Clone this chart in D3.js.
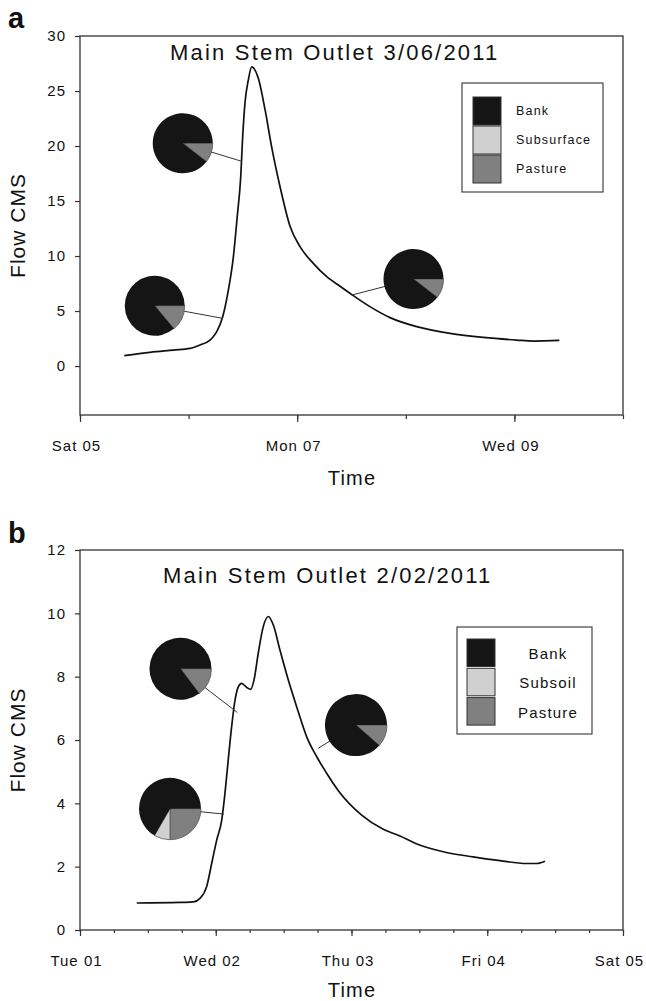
<!DOCTYPE html>
<html><head><meta charset="utf-8">
<script src="https://cdn.jsdelivr.net/npm/d3@7"></script>
<style>body{margin:0;background:#fff} svg{display:block;font-family:"Liberation Sans",Arial,sans-serif}</style>
</head><body><svg id="c" width="646" height="1001"></svg>
<script>
// ---------- Panel a data (days since Sat 05 March 2011 00:00 UTC) ----------
const aTimeDays = [0.408,0.645,0.859,1.013,1.105,1.197,1.227,1.258,1.314,1.366,1.412,1.448,1.480,1.498,1.519,1.550,1.581,1.642,1.704,1.765,1.842,1.934,2.026,2.148,2.272,2.394,2.517,2.670,2.855,3.1,3.407,3.714,4.021,4.174,4.414];
const aFlow      = [0.94,1.25,1.45,1.6,1.91,2.36,2.67,3.1,4.48,6.9,9.9,13.6,17.2,20.85,23.9,26.0,27.2,26.15,23.3,19.9,16.3,12.7,10.85,9.33,8.12,7.25,6.4,5.4,4.4,3.58,2.97,2.6,2.36,2.27,2.33];
const aTitle = "Main Stem Outlet 3/06/2011";
const aLegend = ["Bank","Subsurface","Pasture"];
const aYTicks = [0,5,10,15,20,25,30];
const aPieBank    = [89.5, 86.0, 89.5];
const aPieSub     = [0, 0, 0];
const aPiePasture = [10.5, 14.0, 10.5];
const aPieDay   = [0.946, 0.688, 3.071];
const aPieFlow  = [20.25, 5.48, 7.91];
const aLinkDay  = [1.492, 1.317, 2.502];
const aLinkFlow = [18.6, 4.33, 6.45];

// ---------- Panel b data (days since Tue 01 Feb 2011 00:00 UTC) ----------
const bTimeDays = [0.418,0.737,0.835,0.884,0.933,0.970,1.007,1.044,1.068,1.092,1.117,1.142,1.166,1.191,1.228,1.257,1.282,1.313,1.350,1.387,1.424,1.473,1.534,1.596,1.670,1.744,1.817,1.903,2.075,2.234,2.357,2.468,2.676,2.897,3.094,3.291,3.364,3.425];
const bFlow      = [0.853,0.87,0.89,1.0,1.37,2.1,2.84,3.47,4.32,5.37,6.42,7.26,7.68,7.79,7.66,7.6,7.9,8.74,9.58,9.9,9.63,8.84,7.9,7.05,6.1,5.47,4.95,4.4,3.63,3.18,2.97,2.74,2.47,2.31,2.19,2.1,2.1,2.17];
const bTitle = "Main Stem Outlet 2/02/2011";
const bLegend = ["Bank","Subsoil","Pasture"];
const bYTicks = [0,2,4,6,8,10,12];
const bPieBank    = [85.3, 66.7, 88.5];
const bPieSub     = [0, 8.3, 0];
const bPiePasture = [14.7, 25.0, 11.5];
const bPieDay   = [0.740, 0.663, 2.033];
const bPieFlow  = [8.25, 3.83, 6.47];
const bLinkDay  = [1.159, 1.061, 1.755];
const bLinkFlow = [6.87, 3.66, 5.74];

const sourceColors = ["#151515", "#d0d0d0", "#808080"]; // bank, subsurface/subsoil, pasture

const svg = d3.select("#c");
const DAY = 86400000;

function drawPanel(o){
  const x = d3.scaleUtc().domain([o.start, new Date(+o.start + o.nDays*DAY)]).range([o.left, o.right]);
  const y = d3.scaleLinear().domain(o.yDomain).range([o.bottom, o.top]);
  const g = svg.append("g");
  const toDate = d => new Date(+o.start + d*DAY);

  // panel letter
  g.append("text").attr("x",8).attr("y",o.letterY).text(o.letter)
    .attr("font-size",29).attr("font-weight","bold").attr("fill","#111");

  // frame
  g.append("rect").attr("x",o.left).attr("y",o.top).attr("width",o.right-o.left).attr("height",o.bottom-o.top)
    .attr("fill","none").attr("stroke","#333").attr("stroke-width",1.3);

  // y axis
  const ya = d3.axisLeft(y).tickValues(o.yTicks).tickSize(5).tickPadding(9).tickFormat(d3.format("d"));
  g.append("g").attr("transform",`translate(${o.left},0)`).call(ya).call(s=>{
    s.select(".domain").remove();
    s.selectAll("line").attr("stroke","#333").attr("stroke-width",1.2);
    s.selectAll("text").attr("font-size",15).attr("letter-spacing","1px").attr("fill","#111")
      .attr("font-family","Liberation Sans, Arial, sans-serif");
  });

  // x axis minor ticks
  const xMinor = d3.axisBottom(x).tickValues(x.ticks(o.minorInterval)).tickSize(o.minorLen).tickFormat("");
  g.append("g").attr("transform",`translate(0,${o.bottom})`).call(xMinor).call(s=>{
    s.select(".domain").remove();
    s.selectAll("line").attr("stroke","#333").attr("stroke-width",1.2);
  });
  // x axis major ticks with labels
  const xMajor = d3.axisBottom(x).tickValues(x.ticks(o.majorInterval)).tickSize(o.majorLen).tickPadding(25 - o.majorLen)
    .tickFormat(d3.utcFormat("%a %d"));
  g.append("g").attr("transform",`translate(0,${o.bottom})`).call(xMajor).call(s=>{
    s.select(".domain").remove();
    s.selectAll("line").attr("stroke","#333").attr("stroke-width",1.2);
    s.selectAll("text").attr("font-size",15).attr("letter-spacing","1px").attr("fill","#111")
      .attr("dx",-4).attr("font-family","Liberation Sans, Arial, sans-serif");
  });

  // axis titles
  g.append("text").attr("transform",`translate(25,${(o.top+o.bottom)/2}) rotate(-90)`)
    .attr("text-anchor","middle").attr("font-size",21).attr("letter-spacing","1px").attr("fill","#111").text("Flow CMS");
  g.append("text").attr("x",352).attr("y",o.bottom+o.timeOffset).attr("text-anchor","middle")
    .attr("font-size",20).attr("letter-spacing","1.2px").attr("fill","#111").text("Time");

  // chart title
  g.append("text").attr("x",o.titleX).attr("y",o.titleY).attr("font-size",22).attr("letter-spacing","2.2px")
    .attr("fill","#111").text(o.title);

  // flow line
  const pts = o.days.map((d,i)=>[toDate(d), o.flow[i]]);
  g.append("path").datum(pts).attr("fill","none").attr("stroke","#111").attr("stroke-width",1.7)
    .attr("stroke-linejoin","round")
    .attr("d", d3.line().x(d=>x(d[0])).y(d=>y(d[1])).curve(d3.curveMonotoneX));

  // pies with leader lines
  const pie = d3.pie().sort(null).value(d=>d).startAngle(Math.PI/2).endAngle(Math.PI/2 + 2*Math.PI);
  const arc = d3.arc().innerRadius(0).outerRadius(o.pieR);
  const pieColors = [sourceColors[2], sourceColors[1], sourceColors[0]]; // pasture, sub, bank
  o.pieDay.forEach((pd,i)=>{
    const cx = x(toDate(pd)), cy = y(o.pieFlow[i]);
    g.append("line").attr("x1",cx).attr("y1",cy).attr("x2",x(toDate(o.linkDay[i]))).attr("y2",y(o.linkFlow[i]))
      .attr("stroke","#333").attr("stroke-width",1);
    const pg = g.append("g").attr("transform",`translate(${cx},${cy})`);
    const vals = [o.pasture[i], o.sub[i], o.bank[i]];
    pg.selectAll("path").data(pie(vals)).join("path").attr("d",arc)
      .attr("fill",(d,j)=>pieColors[j]).attr("stroke",(d,j)=> j===2 ? "none" : "#555").attr("stroke-width",0.8);
  });

  // legend
  const L = o.legend;
  const lg = g.append("g");
  lg.append("rect").attr("x",L.x).attr("y",L.y).attr("width",L.w).attr("height",L.h)
    .attr("fill","#fff").attr("stroke","#333").attr("stroke-width",1.1);
  o.legendLabels.forEach((lab,i)=>{
    lg.append("rect").attr("x",L.sx).attr("y",L.sy + i*L.step).attr("width",L.sw).attr("height",L.sh)
      .attr("fill",sourceColors[i]).attr("stroke","#333").attr("stroke-width",1);
    lg.append("text").attr("x",L.tx).attr("y",L.ty + i*L.step).attr("text-anchor",L.anchor)
      .attr("font-size",L.fs).attr("letter-spacing",L.ls).attr("fill","#111").text(lab);
  });
}

drawPanel({
  letter:"a", letterY:28, start:new Date(Date.UTC(2011,2,5)), nDays:5,
  left:80, right:623, top:36, bottom:415, yDomain:[-4.45,30], yTicks:aYTicks,
  minorInterval:d3.utcDay.every(1), majorInterval:d3.utcDay.every(2), minorLen:4, majorLen:7,
  timeOffset:70, title:aTitle, titleX:170, titleY:60,
  days:aTimeDays, flow:aFlow, pieR:30,
  pieDay:aPieDay, pieFlow:aPieFlow, linkDay:aLinkDay, linkFlow:aLinkFlow,
  bank:aPieBank, sub:aPieSub, pasture:aPiePasture,
  legendLabels:aLegend,
  legend:{x:462,y:83,w:141,h:109,sx:473,sy:97,sw:28,sh:28,step:29,tx:516,ty:115,anchor:"start",fs:12.5,ls:"1.2px"}
});

drawPanel({
  letter:"b", letterY:543, start:new Date(Date.UTC(2011,1,1)), nDays:4,
  left:80, right:623, top:550, bottom:930, yDomain:[0,12], yTicks:bYTicks,
  minorInterval:d3.utcHour.every(6), majorInterval:d3.utcDay.every(1), minorLen:3, majorLen:6,
  timeOffset:67, title:bTitle, titleX:163, titleY:583,
  days:bTimeDays, flow:bFlow, pieR:31,
  pieDay:bPieDay, pieFlow:bPieFlow, linkDay:bLinkDay, linkFlow:bLinkFlow,
  bank:bPieBank, sub:bPieSub, pasture:bPiePasture,
  legendLabels:bLegend,
  legend:{x:457,y:627,w:135,h:107,sx:467,sy:639,sw:28,sh:27.5,step:29.3,tx:548,ty:659,anchor:"middle",fs:15,ls:"1.2px"}
});
</script></body></html>
